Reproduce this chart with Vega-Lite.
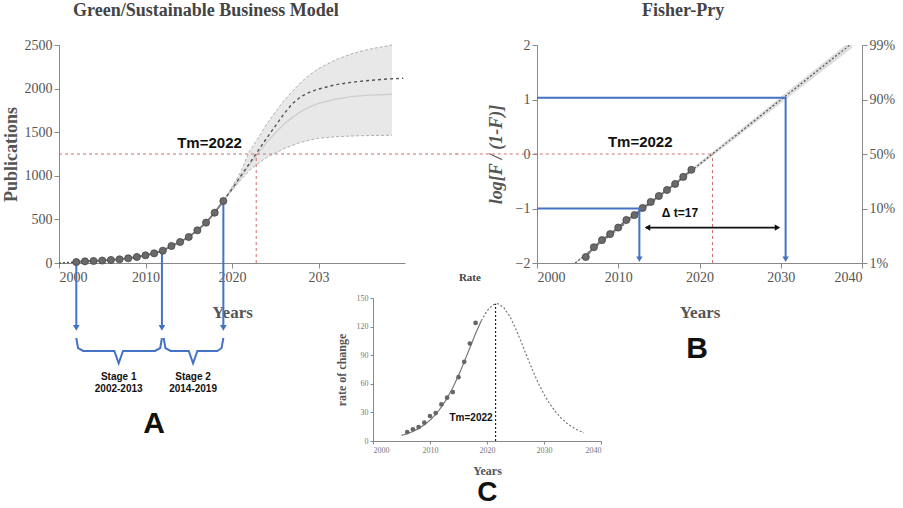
{
  "$schema": "https://vega.github.io/schema/vega-lite/v6.json",
  "padding": {"left": 2, "top": 2, "right": 0, "bottom": 0},
  "background": "white",
  "config": {
    "view": {"stroke": null},
    "font": "Liberation Serif",
    "axis": {"labelFont": "Liberation Serif", "titleFont": "Liberation Serif", "labelColor": "#555", "titleColor": "#555", "domainColor": "#888", "tickColor": "#888", "grid": false, "labelFontSize": 14, "titleFontSize": 17, "titleFontWeight": "bold"},
    "title": {"font": "Liberation Serif", "fontWeight": "bold", "color": "#444", "fontSize": 18, "anchor": "start", "frame": "group"}
  },
  "bounds": "flush",
  "spacing": 132,
  "hconcat": [
    {
      "width": 346, "height": 218,
      "title": {"text": "Green/Sustainable Business Model", "dx": 14, "offset": 18},
      "encoding": {
        "x": {"field": "x", "type": "quantitative", "scale": {"domain": [2000, 2040], "nice": false, "zero": false},
          "axis": {"values": [2000, 2010, 2020, 2030], "format": "d", "labelExpr": "datum.value == 2030 ? '203' : datum.label", "title": "Years", "titlePadding": 20, "tickSize": 5}},
        "y": {"field": "y", "type": "quantitative", "scale": {"domain": [0, 2500], "nice": false},
          "axis": {"values": [0, 500, 1000, 1500, 2000, 2500], "format": "d", "title": "Publications", "titleFontSize": 18, "titlePadding": 4, "tickSize": 5}}
      },
      "layer": [
        {
          "data": {"values": [
            {"x": 2019, "y": 711, "y2": 711}, {"x": 2020, "y": 830, "y2": 870}, {"x": 2021, "y": 950, "y2": 1040},
            {"x": 2022, "y": 1060, "y2": 1280}, {"x": 2023, "y": 1140, "y2": 1430}, {"x": 2024, "y": 1210, "y2": 1590},
            {"x": 2025, "y": 1260, "y2": 1730}, {"x": 2026, "y": 1310, "y2": 1860}, {"x": 2027, "y": 1350, "y2": 1970},
            {"x": 2028, "y": 1385, "y2": 2075}, {"x": 2029, "y": 1410, "y2": 2160}, {"x": 2030, "y": 1430, "y2": 2230},
            {"x": 2032, "y": 1448, "y2": 2330}, {"x": 2034, "y": 1457, "y2": 2405}, {"x": 2036, "y": 1462, "y2": 2455},
            {"x": 2038.5, "y": 1465, "y2": 2500}
          ]},
          "mark": {"type": "area", "color": "#e8e8e8"},
          "encoding": {"y2": {"field": "y2"}}
        },
        {
          "data": {"values": [
            {"s": "hi", "x": 2019, "y": 711}, {"s": "hi", "x": 2020, "y": 870}, {"s": "hi", "x": 2021, "y": 1040}, {"s": "hi", "x": 2022, "y": 1280},
            {"s": "hi", "x": 2023, "y": 1430}, {"s": "hi", "x": 2024, "y": 1590}, {"s": "hi", "x": 2025, "y": 1730}, {"s": "hi", "x": 2026, "y": 1860},
            {"s": "hi", "x": 2027, "y": 1970}, {"s": "hi", "x": 2028, "y": 2075}, {"s": "hi", "x": 2029, "y": 2160}, {"s": "hi", "x": 2030, "y": 2230},
            {"s": "hi", "x": 2032, "y": 2330}, {"s": "hi", "x": 2034, "y": 2405}, {"s": "hi", "x": 2036, "y": 2455}, {"s": "hi", "x": 2038.5, "y": 2500},
            {"s": "lo", "x": 2019, "y": 711}, {"s": "lo", "x": 2020, "y": 830}, {"s": "lo", "x": 2021, "y": 950}, {"s": "lo", "x": 2022, "y": 1060},
            {"s": "lo", "x": 2023, "y": 1140}, {"s": "lo", "x": 2024, "y": 1210}, {"s": "lo", "x": 2025, "y": 1260}, {"s": "lo", "x": 2026, "y": 1310},
            {"s": "lo", "x": 2027, "y": 1350}, {"s": "lo", "x": 2028, "y": 1385}, {"s": "lo", "x": 2029, "y": 1410}, {"s": "lo", "x": 2030, "y": 1430},
            {"s": "lo", "x": 2032, "y": 1448}, {"s": "lo", "x": 2034, "y": 1457}, {"s": "lo", "x": 2036, "y": 1462}, {"s": "lo", "x": 2038.5, "y": 1465}
          ]},
          "mark": {"type": "line", "color": "#b0b0b0", "strokeWidth": 1, "strokeDash": [3, 2]},
          "encoding": {"detail": {"field": "s"}}
        },
        {
          "data": {"values": [
            {"x": 2019, "y": 711}, {"x": 2020, "y": 845}, {"x": 2021, "y": 985}, {"x": 2022, "y": 1120}, {"x": 2023, "y": 1255},
            {"x": 2024, "y": 1380}, {"x": 2025, "y": 1490}, {"x": 2026, "y": 1590}, {"x": 2027, "y": 1670}, {"x": 2028, "y": 1740},
            {"x": 2029, "y": 1790}, {"x": 2030, "y": 1830}, {"x": 2032, "y": 1880}, {"x": 2034, "y": 1910}, {"x": 2036, "y": 1925},
            {"x": 2038.5, "y": 1935}
          ]},
          "mark": {"type": "line", "color": "#cdcdcd", "strokeWidth": 1.3}
        },
        {
          "data": {"values": [
            {"x": 2019, "y": 711}, {"x": 2020, "y": 850}, {"x": 2021, "y": 995}, {"x": 2022, "y": 1140},
            {"x": 2023, "y": 1285}, {"x": 2024, "y": 1430}, {"x": 2025, "y": 1570}, {"x": 2026, "y": 1710},
            {"x": 2027, "y": 1830}, {"x": 2028, "y": 1910}, {"x": 2029, "y": 1960}, {"x": 2030, "y": 1995},
            {"x": 2032, "y": 2045}, {"x": 2034, "y": 2075}, {"x": 2036, "y": 2095}, {"x": 2038, "y": 2110},
            {"x": 2039.8, "y": 2118}
          ]},
          "mark": {"type": "line", "color": "#555", "strokeWidth": 1.4, "strokeDash": [3, 3]}
        },
        {
          "data": {"values": [
            {"x": 2000, "x2": 2046, "y": 1250, "y2": 1250},
            {"x": 2022.8, "x2": 2022.8, "y": 0, "y2": 1250}
          ]},
          "mark": {"type": "rule", "color": "#d07070", "strokeWidth": 1, "strokeDash": [3, 3]},
          "encoding": {"x2": {"field": "x2"}, "y2": {"field": "y2"}}
        },
        {
          "data": {"values": [{"x": 2000, "y": 0}, {"x": 2002, "y": 11}]},
          "mark": {"type": "line", "color": "#555", "strokeWidth": 1.5, "strokeDash": [2, 2]}
        },
        {
          "data": {"values": [
            {"x": 2002, "y": 11, "y2": -745}, {"x": 2011.9, "y": 141, "y2": -745}, {"x": 2019, "y": 711, "y2": -745}
          ]},
          "mark": {"type": "rule", "color": "#4472c4", "strokeWidth": 2},
          "encoding": {"y2": {"field": "y2"}}
        },
        {
          "data": {"values": [{"x": 2002, "y": -745}, {"x": 2011.9, "y": -745}, {"x": 2019, "y": -745}]},
          "mark": {"type": "point", "shape": "triangle-down", "filled": true, "color": "#4472c4", "size": 45, "opacity": 1}
        },
        {
          "data": {"values": [
            {"x": 2002, "y": 11}, {"x": 2003, "y": 19}, {"x": 2004, "y": 23}, {"x": 2005, "y": 28},
            {"x": 2006, "y": 35}, {"x": 2007, "y": 42}, {"x": 2008, "y": 54}, {"x": 2009, "y": 69},
            {"x": 2010, "y": 88}, {"x": 2011, "y": 111}, {"x": 2012, "y": 141}, {"x": 2013, "y": 195},
            {"x": 2014, "y": 241}, {"x": 2015, "y": 298}, {"x": 2016, "y": 375}, {"x": 2017, "y": 463},
            {"x": 2018, "y": 577}, {"x": 2019, "y": 711}
          ]},
          "layer": [
            {"mark": {"type": "line", "color": "#7a7a7a", "strokeWidth": 2}},
            {"mark": {"type": "point", "filled": true, "color": "#6a6a6a", "stroke": "#444", "strokeWidth": 0.8, "size": 50, "opacity": 1}}
          ]
        },
        {
          "data": {"values": [
            {"id": 1, "o": 1, "x": 2002, "y": -860}, {"id": 1, "o": 2, "x": 2002.2, "y": -975}, {"id": 1, "o": 3, "x": 2002.8, "y": -1009},
            {"id": 1, "o": 4, "x": 2006.4, "y": -1009}, {"id": 1, "o": 5, "x": 2006.9, "y": -1150}, {"id": 1, "o": 6, "x": 2007.4, "y": -1009},
            {"id": 1, "o": 7, "x": 2011.1, "y": -1009}, {"id": 1, "o": 8, "x": 2011.7, "y": -975}, {"id": 1, "o": 9, "x": 2011.9, "y": -860},
            {"id": 2, "o": 1, "x": 2012.1, "y": -860}, {"id": 2, "o": 2, "x": 2012.3, "y": -975}, {"id": 2, "o": 3, "x": 2012.9, "y": -1009},
            {"id": 2, "o": 4, "x": 2015.0, "y": -1009}, {"id": 2, "o": 5, "x": 2015.5, "y": -1150}, {"id": 2, "o": 6, "x": 2016.0, "y": -1009},
            {"id": 2, "o": 7, "x": 2018.3, "y": -1009}, {"id": 2, "o": 8, "x": 2018.8, "y": -975}, {"id": 2, "o": 9, "x": 2019, "y": -860}
          ]},
          "mark": {"type": "line", "color": "#4472c4", "strokeWidth": 2},
          "encoding": {"detail": {"field": "id"}, "order": {"field": "o"}}
        },
        {
          "data": {"values": [
            {"x": 2006.9, "y": -1307, "t": "Stage 1"}, {"x": 2006.9, "y": -1445, "t": "2002-2013"},
            {"x": 2015.5, "y": -1307, "t": "Stage 2"}, {"x": 2015.5, "y": -1445, "t": "2014-2019"}
          ]},
          "mark": {"type": "text", "font": "Liberation Sans", "fontWeight": "bold", "fontSize": 10, "color": "#111", "align": "center", "baseline": "middle"},
          "encoding": {"text": {"field": "t"}}
        },
        {
          "data": {"values": [{"x": 2017.4, "y": 1380, "t": "Tm=2022"}]},
          "mark": {"type": "text", "font": "Liberation Sans", "fontWeight": "bold", "fontSize": 15, "color": "#111", "align": "center", "baseline": "middle"},
          "encoding": {"text": {"field": "t"}}
        },
        {
          "data": {"values": [{"x": 2011, "y": -1850, "t": "A"}]},
          "mark": {"type": "text", "font": "Liberation Sans", "fontWeight": "bold", "fontSize": 30, "color": "#111", "align": "center", "baseline": "middle"},
          "encoding": {"text": {"field": "t"}}
        }
      ]
    },
    {
      "width": 325, "height": 218,
      "title": {"text": "Fisher-Pry", "dx": 105, "offset": 18},
      "resolve": {"scale": {"x": "independent", "y": "independent"}, "axis": {"x": "independent", "y": "independent"}},
      "layer": [
        {
          "resolve": {"scale": {"x": "shared", "y": "shared"}, "axis": {"y": "shared", "x": "shared"}},
          "encoding": {
            "x": {"field": "x", "type": "quantitative", "scale": {"domain": [2000, 2040], "nice": false, "zero": false},
              "axis": {"orient": "bottom", "values": [2000, 2010, 2020, 2030, 2040], "format": "d", "title": "Years", "titlePadding": 20, "tickSize": 5}},
            "y": {"field": "y", "type": "quantitative", "scale": {"domain": [-2, 2], "nice": false},
              "axis": {"orient": "left", "values": [-2, -1, 0, 1, 2], "title": "log[F / (1-F)]", "titleFontStyle": "italic", "titleFontSize": 18, "titlePadding": 10, "tickSize": 5}}
          },
          "layer": [
            {
              "data": {"values": [
                {"x": 2004.7, "y": -2.02, "y2": -1.98},
                {"x": 2019, "y": -0.34, "y2": -0.27},
                {"x": 2038.8, "y": 1.95, "y2": 2.1}
              ]},
              "mark": {"type": "area", "color": "#dedede", "clip": true},
              "encoding": {"y2": {"field": "y2"}}
            },
            {
              "data": {"values": [{"x": 2004.7, "y": -2}, {"x": 2038.5, "y": 2}]},
              "mark": {"type": "line", "color": "#555", "strokeWidth": 1.2, "strokeDash": [2, 2], "clip": true}
            },
            {
              "data": {"values": [
                {"x": 1990, "x2": 2021.6, "y": 0, "y2": 0},
                {"x": 2021.6, "x2": 2021.6, "y": -2, "y2": 0}
              ]},
              "mark": {"type": "rule", "color": "#d07070", "strokeWidth": 1, "strokeDash": [3, 3]},
              "encoding": {"x2": {"field": "x2"}, "y2": {"field": "y2"}}
            },
            {
              "data": {"values": [
                {"x": 2006, "y": -1.89}, {"x": 2007, "y": -1.71}, {"x": 2008, "y": -1.58}, {"x": 2009, "y": -1.47},
                {"x": 2010, "y": -1.35}, {"x": 2011, "y": -1.21}, {"x": 2012, "y": -1.12}, {"x": 2013, "y": -0.99},
                {"x": 2014, "y": -0.88}, {"x": 2015, "y": -0.77}, {"x": 2016, "y": -0.66}, {"x": 2017, "y": -0.55},
                {"x": 2018, "y": -0.42}, {"x": 2019, "y": -0.29}
              ]},
              "layer": [
                {"mark": {"type": "line", "color": "#7a7a7a", "strokeWidth": 2}},
                {"mark": {"type": "point", "filled": true, "color": "#6a6a6a", "stroke": "#444", "strokeWidth": 0.8, "size": 50, "opacity": 1}}
              ]
            },
            {
              "data": {"values": [
                {"id": 1, "o": 1, "x": 2000, "y": 1.03}, {"id": 1, "o": 2, "x": 2030.6, "y": 1.03}, {"id": 1, "o": 3, "x": 2030.6, "y": -1.9},
                {"id": 2, "o": 1, "x": 2000, "y": -1.0}, {"id": 2, "o": 2, "x": 2012.6, "y": -1.0}, {"id": 2, "o": 3, "x": 2012.6, "y": -1.9}
              ]},
              "mark": {"type": "line", "color": "#4472c4", "strokeWidth": 2},
              "encoding": {"detail": {"field": "id"}, "order": {"field": "o"}}
            },
            {
              "data": {"values": [{"x": 2030.6, "y": -1.93}, {"x": 2012.6, "y": -1.93}]},
              "mark": {"type": "point", "shape": "triangle-down", "filled": true, "color": "#4472c4", "size": 40, "opacity": 1}
            },
            {
              "data": {"values": [{"x": 2013.4, "x2": 2029.6, "y": -1.35}]},
              "mark": {"type": "rule", "color": "#111", "strokeWidth": 1.6},
              "encoding": {"x2": {"field": "x2"}}
            },
            {
              "data": {"values": [{"x": 2013.6, "y": -1.35}]},
              "mark": {"type": "point", "shape": "triangle-left", "filled": true, "color": "#111", "size": 40, "opacity": 1}
            },
            {
              "data": {"values": [{"x": 2029.6, "y": -1.35}]},
              "mark": {"type": "point", "shape": "triangle-right", "filled": true, "color": "#111", "size": 40, "opacity": 1}
            },
            {
              "data": {"values": [{"x": 2012.7, "y": 0.22, "t": "Tm=2022"}]},
              "mark": {"type": "text", "font": "Liberation Sans", "fontWeight": "bold", "fontSize": 15, "color": "#111", "align": "center", "baseline": "middle"},
              "encoding": {"text": {"field": "t"}}
            },
            {
              "data": {"values": [{"x": 2017.6, "y": -1.08, "t": "Δ t=17"}]},
              "mark": {"type": "text", "font": "Liberation Sans", "fontWeight": "bold", "fontSize": 12, "color": "#111", "align": "center", "baseline": "middle"},
              "encoding": {"text": {"field": "t"}}
            },
            {
              "data": {"values": [{"x": 2019.7, "y": -3.58, "t": "B"}]},
              "mark": {"type": "text", "font": "Liberation Sans", "fontWeight": "bold", "fontSize": 30, "color": "#111", "align": "center", "baseline": "middle"},
              "encoding": {"text": {"field": "t"}}
            }
          ]
        },
        {
          "data": {"values": [{"x": 2010, "y": -2}, {"x": 2030, "y": 2}]},
          "mark": {"type": "point", "opacity": 0},
          "encoding": {
            "x": {"field": "x", "type": "quantitative", "scale": {"domain": [2000, 2040], "nice": false, "zero": false}, "axis": null},
            "y": {"field": "y", "type": "quantitative", "scale": {"domain": [-2, 2], "nice": false},
              "axis": {"orient": "right", "values": [-2, -1, 0, 1, 2], "title": null, "tickSize": 5,
                "labelExpr": "datum.value == 2 ? '99%' : datum.value == 1 ? '90%' : datum.value == 0 ? '50%' : datum.value == -1 ? '10%' : '1%'"}}
          }
        },
        {
          "resolve": {"scale": {"x": "shared", "y": "shared"}, "axis": {"y": "shared", "x": "shared"}},
          "encoding": {
            "x": {"field": "x", "type": "quantitative", "scale": {"domain": [2000, 2040], "nice": false, "zero": false, "range": [-164, 64]},
              "axis": {"orient": "bottom", "offset": 178, "values": [2000, 2010, 2020, 2030, 2040], "format": "d", "labelFontSize": 8, "labelColor": "#777", "tickSize": 3, "title": "Years", "titleFontSize": 12, "titlePadding": 11}},
            "y": {"field": "y", "type": "quantitative", "scale": {"domain": [0, 150], "nice": false, "range": [396, 253]},
              "axis": {"orient": "left", "offset": 164, "values": [0, 30, 60, 90, 120, 150], "labelFontSize": 8, "labelColor": "#777", "tickSize": 3, "title": "rate of change", "titleFontSize": 12, "titlePadding": 8}}
          },
          "layer": [
            {
              "data": {"values": [
                {"x": 2005, "y": 5.9, "seg": "fit"}, {"x": 2006, "y": 7.7, "seg": "fit"}, {"x": 2007, "y": 10.0, "seg": "fit"},
                {"x": 2008, "y": 13.1, "seg": "fit"}, {"x": 2009, "y": 16.9, "seg": "fit"}, {"x": 2010, "y": 21.8, "seg": "fit"},
                {"x": 2011, "y": 27.9, "seg": "fit"}, {"x": 2012, "y": 35.6, "seg": "fit"}, {"x": 2013, "y": 44.8, "seg": "fit"},
                {"x": 2014, "y": 55.9, "seg": "fit"}, {"x": 2015, "y": 68.7, "seg": "fit"}, {"x": 2016, "y": 82.9, "seg": "fit"},
                {"x": 2017, "y": 97.9, "seg": "fit"}, {"x": 2018, "y": 112.8, "seg": "fit"}, {"x": 2019, "y": 126.1, "seg": "fit"},
                {"x": 2019, "y": 126.1, "seg": "proj"}, {"x": 2020, "y": 136.5, "seg": "proj"}, {"x": 2021, "y": 142.7, "seg": "proj"},
                {"x": 2021.7, "y": 144, "seg": "proj"}, {"x": 2022, "y": 143.8, "seg": "proj"}, {"x": 2023, "y": 139.5, "seg": "proj"},
                {"x": 2024, "y": 130.7, "seg": "proj"}, {"x": 2025, "y": 118.3, "seg": "proj"}, {"x": 2026, "y": 103.9, "seg": "proj"},
                {"x": 2027, "y": 88.8, "seg": "proj"}, {"x": 2028, "y": 74.2, "seg": "proj"}, {"x": 2029, "y": 60.8, "seg": "proj"},
                {"x": 2030, "y": 49.0, "seg": "proj"}, {"x": 2031, "y": 39.1, "seg": "proj"}, {"x": 2032, "y": 30.8, "seg": "proj"},
                {"x": 2033, "y": 24.1, "seg": "proj"}, {"x": 2034, "y": 18.7, "seg": "proj"}, {"x": 2035, "y": 14.5, "seg": "proj"},
                {"x": 2036, "y": 11.2, "seg": "proj"}, {"x": 2037, "y": 8.6, "seg": "proj"}
              ]},
              "mark": {"type": "line", "color": "#777", "strokeWidth": 1.2},
              "encoding": {
                "strokeDash": {"field": "seg", "type": "nominal", "scale": {"domain": ["fit", "proj"], "range": [[1, 0], [2, 2]]}, "legend": null}
              }
            },
            {
              "data": {"values": [{"x": 2021.5, "y": 0, "y2": 144}]},
              "mark": {"type": "rule", "color": "#222", "strokeWidth": 1.2, "strokeDash": [2, 2]},
              "encoding": {"y2": {"field": "y2"}}
            },
            {
              "data": {"values": [
                {"x": 2006, "y": 9.4}, {"x": 2007, "y": 12.2}, {"x": 2008, "y": 14.6}, {"x": 2009, "y": 19.2},
                {"x": 2010, "y": 26.2}, {"x": 2011, "y": 29.3}, {"x": 2012, "y": 38.4}, {"x": 2013, "y": 45.4},
                {"x": 2014, "y": 51.3}, {"x": 2015, "y": 67}, {"x": 2016, "y": 83}, {"x": 2017, "y": 102.3},
                {"x": 2018, "y": 123.9}
              ]},
              "mark": {"type": "point", "filled": true, "color": "#666", "size": 22, "opacity": 1}
            },
            {
              "data": {"values": [{"x": 2017.2, "y": 24.4, "t": "Tm=2022"}]},
              "mark": {"type": "text", "font": "Liberation Sans", "fontWeight": "bold", "fontSize": 10, "color": "#111", "align": "center", "baseline": "middle"},
              "encoding": {"text": {"field": "t"}}
            },
            {
              "data": {"values": [{"x": 2017.0, "y": 171, "t": "Rate"}]},
              "mark": {"type": "text", "font": "Liberation Serif", "fontWeight": "bold", "fontSize": 11, "color": "#444", "align": "center", "baseline": "middle"},
              "encoding": {"text": {"field": "t"}}
            },
            {
              "data": {"values": [{"x": 2020.05, "y": -54.5, "t": "C"}]},
              "mark": {"type": "text", "font": "Liberation Sans", "fontWeight": "bold", "fontSize": 28, "color": "#111", "align": "center", "baseline": "middle"},
              "encoding": {"text": {"field": "t"}}
            }
          ]
        }
      ]
    }
  ]
}
